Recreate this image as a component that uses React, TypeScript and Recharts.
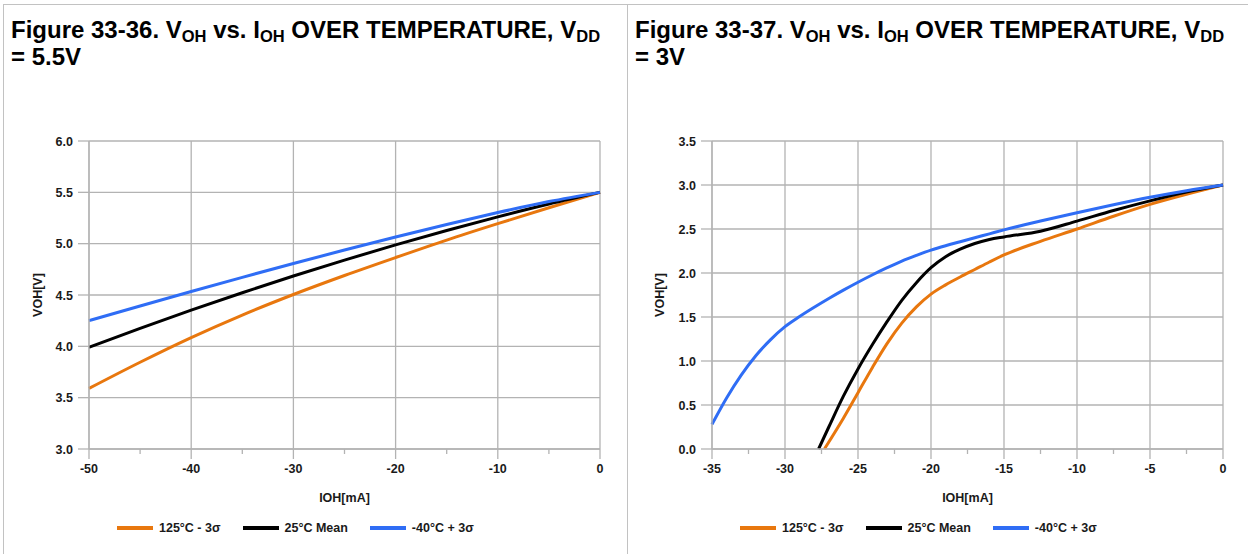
import React from 'react';
import { LineChart, Line, XAxis, YAxis, CartesianGrid, Legend } from 'recharts';

const FONT = '"Liberation Sans", Arial, Helvetica, sans-serif';
const GRID = '#b3b3b3';
const BORDER = '#c2c2c2';
const TEXT = '#1a1a1a';
const HOT = '#e8770e';
const MEAN = '#000000';
const COLD = '#2f6df5';

const SERIES_NAMES = ['125°C - 3σ', '25°C Mean', '-40°C + 3σ'];

// Figure 33-36, VDD = 5.5V
const IOH_55 = [-50, -45, -40, -35, -30, -25, -20, -15, -10, -5, 0];
const VOH_55_HOT = [3.59, 3.845, 4.085, 4.305, 4.505, 4.69, 4.865, 5.035, 5.195, 5.35, 5.5];
const VOH_55_MEAN = [3.99, 4.175, 4.352, 4.522, 4.685, 4.84, 4.988, 5.128, 5.261, 5.386, 5.5];
const VOH_55_COLD = [4.25, 4.393, 4.534, 4.672, 4.807, 4.938, 5.065, 5.187, 5.303, 5.41, 5.5];
const X_TICKS_55 = [-50, -40, -30, -20, -10, 0];
const X_MINOR_55 = [-45, -35, -25, -15, -5];
const Y_TICKS_55 = [3.0, 3.5, 4.0, 4.5, 5.0, 5.5, 6.0];

// Figure 33-37, VDD = 3V
const IOH_3_HOT = [-27.3, -26, -25, -24, -23, -22, -21, -20, -19, -18, -17, -16, -15, -12.5, -10, -7.5, -5, -2.5, 0];
const VOH_3_HOT = [0, 0.35, 0.64, 0.93, 1.2, 1.43, 1.615, 1.76, 1.865, 1.955, 2.04, 2.125, 2.205, 2.36, 2.5, 2.645, 2.78, 2.895, 3.0];
const IOH_3_MEAN = [-27.7, -27, -26, -25, -24, -23, -22, -21, -20, -19, -18, -17, -16, -15, -12.5, -10, -7.5, -5, -2.5, 0];
const VOH_3_MEAN = [0, 0.25, 0.6, 0.91, 1.19, 1.45, 1.69, 1.89, 2.06, 2.185, 2.27, 2.335, 2.38, 2.41, 2.475, 2.59, 2.71, 2.82, 2.92, 3.0];
const IOH_3_COLD = [-35, -34, -33, -32, -31, -30, -29, -28, -27, -26, -25, -24, -23, -22, -21, -20, -19, -18, -17, -16, -15, -12.5, -10, -7.5, -5, -2.5, 0];
const VOH_3_COLD = [0.28, 0.58, 0.84, 1.06, 1.24, 1.39, 1.505, 1.61, 1.71, 1.805, 1.895, 1.98, 2.06, 2.135, 2.2, 2.26, 2.31, 2.355, 2.4, 2.445, 2.49, 2.59, 2.685, 2.775, 2.86, 2.935, 3.0];
const X_TICKS_3 = [-35, -30, -25, -20, -15, -10, -5, 0];
const X_MINOR_3 = [-32.5, -27.5, -22.5, -17.5, -12.5, -7.5, -2.5];
const Y_TICKS_3 = [0, 0.5, 1.0, 1.5, 2.0, 2.5, 3.0, 3.5];

const toPoints = (xs: number[], ys: number[]) => xs.map((x, i) => ({ x, y: ys[i] }));

const XTick = (props: any) => {
  const { x, y, payload, majors } = props;
  const major = majors.includes(payload.value);
  return (
    <g>
      <line x1={x} x2={x} y1={y} y2={y + (major ? 10 : 5)} stroke={GRID} strokeWidth={1.3} />
      {major && (
        <text x={x} y={y + 24} textAnchor="middle" fontSize={12.5} fontWeight="bold" fill={TEXT} fontFamily={FONT}>
          {payload.value}
        </text>
      )}
    </g>
  );
};

const YTick = (props: any) => {
  const { x, y, payload } = props;
  return (
    <g>
      <line x1={x - 11} x2={x} y1={y} y2={y} stroke={GRID} strokeWidth={1.3} />
      <text x={x - 16} y={y + 4.5} textAnchor="end" fontSize={12.5} fontWeight="bold" fill={TEXT} fontFamily={FONT}>
        {payload.value.toFixed(1)}
      </text>
    </g>
  );
};

const LegendRow = ({ payload, offset }: any) => {
  const items = [...(payload || [])].sort(
    (a: any, b: any) => SERIES_NAMES.indexOf(a.value) - SERIES_NAMES.indexOf(b.value)
  );
  return (
    <div
      style={{
        display: 'flex',
        alignItems: 'center',
        height: 40,
        paddingLeft: offset,
        fontFamily: FONT,
        fontSize: 12.5,
        fontWeight: 'bold',
        color: TEXT,
      }}
    >
      {items.map((p: any) => (
        <div key={p.value} style={{ display: 'flex', alignItems: 'center', marginRight: 22 }}>
          <span style={{ display: 'inline-block', width: 36, height: 4, background: p.color, marginRight: 6 }} />
          <span>{p.value}</span>
        </div>
      ))}
    </div>
  );
};

const Sub = ({ children }: { children: React.ReactNode }) => (
  <span style={{ fontSize: 16.5, position: 'relative', top: 4, lineHeight: 0 }}>{children}</span>
);

const Title = ({ num, vdd, left }: { num: string; vdd: string; left: number }) => (
  <div
    style={{
      position: 'absolute',
      left,
      top: 16,
      fontFamily: FONT,
      fontWeight: 'bold',
      fontSize: 24,
      lineHeight: '27px',
      color: '#000',
      whiteSpace: 'nowrap',
    }}
  >
    Figure {num}. V<Sub>OH</Sub> vs. I<Sub>OH</Sub> OVER TEMPERATURE, V<Sub>DD</Sub>
    <br />= {vdd}
  </div>
);

type PanelProps = {
  left: number;
  width: number;
  yAxisWidth: number;
  rightMargin: number;
  xDomain: [number, number];
  xTicks: number[];
  xMinor: number[];
  yDomain: [number, number];
  yTicks: number[];
  hot: { x: number; y: number }[];
  mean: { x: number; y: number }[];
  cold: { x: number; y: number }[];
  labelOffset: number;
  legendOffset: number;
};

const Panel = (p: PanelProps) => {
  const allX = [...p.xTicks, ...p.xMinor].sort((a, b) => a - b);
  return (
    <div style={{ position: 'absolute', left: p.left, top: 100 }}>
      <LineChart width={p.width} height={454} margin={{ top: 41, right: p.rightMargin, left: 0, bottom: 6 }}>
        <CartesianGrid stroke={GRID} strokeWidth={1.3} verticalValues={p.xTicks} horizontalValues={p.yTicks} />
        <XAxis
          type="number"
          dataKey="x"
          domain={p.xDomain}
          ticks={allX}
          interval={0}
          tickLine={false}
          tickSize={0}
          tickMargin={0}
          axisLine={{ stroke: GRID, strokeWidth: 1.3 }}
          tick={(t: any) => <XTick {...t} majors={p.xTicks} />}
          height={59}
          label={{
            value: 'IOH[mA]',
            position: 'insideTop',
            offset: 44,
            style: { fontFamily: FONT, fontSize: 12.5, fontWeight: 'bold', fill: TEXT },
          }}
        />
        <YAxis
          type="number"
          domain={p.yDomain}
          ticks={p.yTicks}
          interval={0}
          width={p.yAxisWidth}
          tickLine={false}
          tickSize={0}
          tickMargin={0}
          axisLine={{ stroke: GRID, strokeWidth: 1.3 }}
          tick={(t: any) => <YTick {...t} />}
          label={{
            value: 'VOH[V]',
            angle: -90,
            position: 'insideLeft',
            offset: p.labelOffset,
            style: { fontFamily: FONT, fontSize: 12.5, fontWeight: 'bold', fill: TEXT, textAnchor: 'middle' },
          }}
        />
        <Legend verticalAlign="bottom" content={(lp: any) => <LegendRow {...lp} offset={p.legendOffset} />} />
        <Line data={p.hot} dataKey="y" name={SERIES_NAMES[0]} type="monotone" stroke={HOT} strokeWidth={3} dot={false} isAnimationActive={false} />
        <Line data={p.mean} dataKey="y" name={SERIES_NAMES[1]} type="monotone" stroke={MEAN} strokeWidth={3} dot={false} isAnimationActive={false} />
        <Line data={p.cold} dataKey="y" name={SERIES_NAMES[2]} type="monotone" stroke={COLD} strokeWidth={3} dot={false} isAnimationActive={false} />
      </LineChart>
    </div>
  );
};

export default function App() {
  return (
    <div style={{ position: 'absolute', left: 0, top: 0, width: 1248, height: 554, background: '#fff', overflow: 'hidden' }}>
      <div style={{ position: 'absolute', left: 3, top: 4, width: 1245, height: 1, background: BORDER }} />
      <div style={{ position: 'absolute', left: 3, top: 4, width: 1, height: 550, background: BORDER }} />
      <div style={{ position: 'absolute', left: 627, top: 4, width: 1, height: 550, background: BORDER }} />
      <Title num="33-36" vdd="5.5V" left={11} />
      <Title num="33-37" vdd="3V" left={635} />
      <Panel
        left={0}
        width={627}
        yAxisWidth={89}
        rightMargin={27}
        xDomain={[-50, 0]}
        xTicks={X_TICKS_55}
        xMinor={X_MINOR_55}
        yDomain={[3, 6]}
        yTicks={Y_TICKS_55}
        hot={toPoints(IOH_55, VOH_55_HOT)}
        mean={toPoints(IOH_55, VOH_55_MEAN)}
        cold={toPoints(IOH_55, VOH_55_COLD)}
        labelOffset={38}
        legendOffset={117}
      />
      <Panel
        left={627}
        width={621}
        yAxisWidth={85}
        rightMargin={25}
        xDomain={[-35, 0]}
        xTicks={X_TICKS_3}
        xMinor={X_MINOR_3}
        yDomain={[0, 3.5]}
        yTicks={Y_TICKS_3}
        hot={toPoints(IOH_3_HOT, VOH_3_HOT)}
        mean={toPoints(IOH_3_MEAN, VOH_3_MEAN)}
        cold={toPoints(IOH_3_COLD, VOH_3_COLD)}
        labelOffset={33}
        legendOffset={113}
      />
    </div>
  );
}
